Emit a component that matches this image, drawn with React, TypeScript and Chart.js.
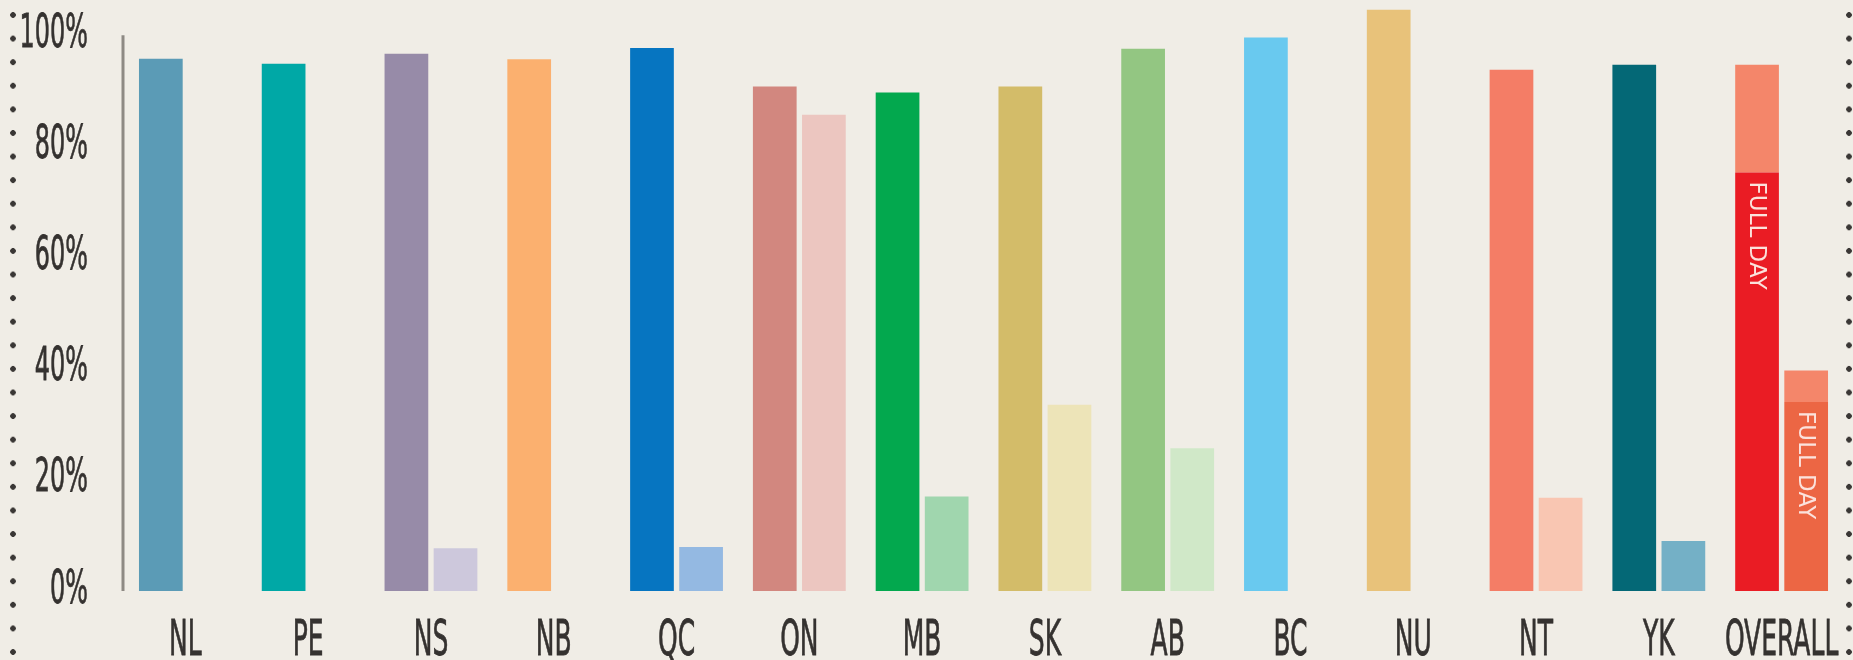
import React, { useEffect, useRef } from 'react';
import { Chart, registerables } from 'chart.js';

Chart.register(...registerables);

const categories = ['NL', 'PE', 'NS', 'NB', 'QC', 'ON', 'MB', 'SK', 'AB', 'BC', 'NU', 'NT', 'YK', 'OVERALL'];
const firstBarValues = [95.8, 94.9, 96.7, 95.7, 97.7, 90.8, 89.7, 90.8, 97.6, 99.6, 104.6, 93.8, 94.7, 94.7];
const secondBarValues = [null, null, 7.7, null, 7.9, 85.7, 17.0, 33.5, 25.7, null, null, 16.8, 9.0, 39.7];
const firstBarColors = ['#5b9bb6', '#00a8a6', '#978ba8', '#fbb06f', '#0675c1', '#d2877f', '#03a84e', '#d3bc69', '#93c682', '#69c9ef', '#e8c27a', '#f47d66', '#046876', '#f4866a'];
const secondBarColors = ['#cccccc', '#cccccc', '#cdc8dc', '#cccccc', '#94b9e2', '#ecc6c0', '#a0d6ae', '#ede4b8', '#d0e8c8', '#cccccc', '#cccccc', '#f9c6b2', '#74b0c6', '#f4866a'];
const overallLabel = 'OVERALL';
const firstFullDay = 75.3;
const secondFullDay = 34.0;
const firstFullDayColor = '#ea1c24';
const secondFullDayColor = '#ec6644';
const fullDayLabel = 'FULL DAY';
const yTickValues = [0, 20, 40, 60, 80, 100];

const FONT = "'DejaVu Sans', 'Liberation Sans', sans-serif";
const TEXT = '#353230';

export default function App() {
  const ref = useRef<HTMLCanvasElement>(null);

  useEffect(() => {
    const canvas = ref.current;
    if (!canvas) return;
    const fdIndex = categories.indexOf(overallLabel);

    const firstFullData = categories.map((_, i) => (i === fdIndex ? firstFullDay : null));
    const firstRestData = firstBarValues.map((v, i) => (i === fdIndex ? v - firstFullDay : v));
    const secondFullData = categories.map((_, i) => (i === fdIndex ? secondFullDay : null));
    const secondRestData = secondBarValues.map((v, i) => (v == null ? null : i === fdIndex ? v - secondFullDay : v));

    const drawCondensed = (ctx: any, text: string, x: number, y: number, size: number, sx: number, align: string) => {
      ctx.save();
      ctx.translate(x, y);
      ctx.scale(sx, 1);
      ctx.font = `${size}px ${FONT}`;
      ctx.textAlign = align;
      ctx.textBaseline = 'alphabetic';
      ctx.fillStyle = TEXT;
      ctx.strokeStyle = TEXT;
      ctx.lineWidth = 0.8;
      ctx.fillText(text, 0, 0);
      ctx.strokeText(text, 0, 0);
      ctx.restore();
    };

    const decor = {
      id: 'decor',
      beforeDatasetsDraw(chart: any) {
        const ctx = chart.ctx;
        const y = chart.scales.y;
        const x = chart.chartArea.left - 1;
        ctx.save();
        ctx.strokeStyle = '#8e8a84';
        ctx.lineWidth = 3;
        ctx.beginPath();
        ctx.moveTo(x, y.getPixelForValue(100));
        ctx.lineTo(x, y.getPixelForValue(0));
        ctx.stroke();
        ctx.restore();
      },
      afterDatasetsDraw(chart: any) {
        const ctx = chart.ctx;
        [0, 2].forEach((di) => {
          const el = chart.getDatasetMeta(di).data[fdIndex];
          if (!el) return;
          ctx.save();
          ctx.translate(el.x, el.y + 9);
          ctx.rotate(Math.PI / 2);
          ctx.font = `23px ${FONT}`;
          ctx.fillStyle = '#fbe2dc';
          ctx.textAlign = 'left';
          ctx.textBaseline = 'middle';
          ctx.fillText(fullDayLabel, 0, 1);
          ctx.restore();
        });
      },
      afterDraw(chart: any) {
        const ctx = chart.ctx;
        const xs = chart.scales.x;
        const ys = chart.scales.y;
        xs.ticks.forEach((_: any, i: number) => {
          drawCondensed(ctx, String(xs.getLabelForValue(i)), xs.getPixelForTick(i), 655, 50, 0.5, 'center');
        });
        ys.ticks.forEach((t: any) => {
          drawCondensed(ctx, `${t.value}%`, 88, ys.getPixelForValue(t.value) + 11.5, 46, 0.52, 'right');
        });
      },
    };

    const chart = new Chart(canvas, {
      type: 'bar',
      data: {
        labels: categories,
        datasets: [
          { label: 'first full day', data: firstFullData, backgroundColor: firstFullDayColor, stack: 'first' },
          { label: 'first', data: firstRestData, backgroundColor: firstBarColors, stack: 'first' },
          { label: 'second full day', data: secondFullData, backgroundColor: secondFullDayColor, stack: 'second' },
          { label: 'second', data: secondRestData, backgroundColor: secondBarColors, stack: 'second' },
        ] as any,
      },
      options: {
        animation: false,
        responsive: false,
        maintainAspectRatio: false,
        datasets: { bar: { categoryPercentage: 0.8, barPercentage: 0.89, borderWidth: 0 } } as any,
        layout: { padding: { left: 0, right: 10, top: 2, bottom: 0 } },
        plugins: { legend: { display: false }, tooltip: { enabled: false }, title: { display: false } },
        scales: {
          x: {
            stacked: true,
            grid: { display: false, drawTicks: false },
            border: { display: false },
            ticks: { display: false, autoSkip: false, maxRotation: 0 },
            afterFit(s: any) { s.height = 69; s.paddingLeft = 0; s.paddingRight = 0; },
          },
          y: {
            stacked: true,
            min: 0,
            max: 106,
            grid: { display: false, drawTicks: false },
            border: { display: false },
            afterBuildTicks(s: any) { s.ticks = yTickValues.map((v) => ({ value: v })); },
            ticks: { display: false, callback: (v: any) => `${v}%` },
            afterFit(s: any) { s.width = 124; s.paddingTop = 0; s.paddingBottom = 0; },
          },
        } as any,
      },
      plugins: [decor],
    });
    return () => chart.destroy();
  }, []);

  const dots = (left: number): React.CSSProperties => ({
    position: 'absolute',
    left,
    top: 0,
    width: 8,
    height: 660,
    backgroundImage: 'radial-gradient(circle, #3a3735 2.5px, rgba(0,0,0,0) 3.1px)',
    backgroundSize: '8px 23.6px',
    backgroundRepeat: 'repeat-y',
    backgroundPosition: '0 3.2px',
  });

  return (
    <div style={{ position: 'absolute', left: 0, top: 0, width: 1853, height: 660, background: '#f0ede6', overflow: 'hidden' }}>
      <canvas ref={ref} width={1853} height={660} style={{ position: 'absolute', left: 0, top: 0, width: 1853, height: 660 }} />
      <div style={dots(9)} />
      <div style={dots(1845)} />
    </div>
  );
}
